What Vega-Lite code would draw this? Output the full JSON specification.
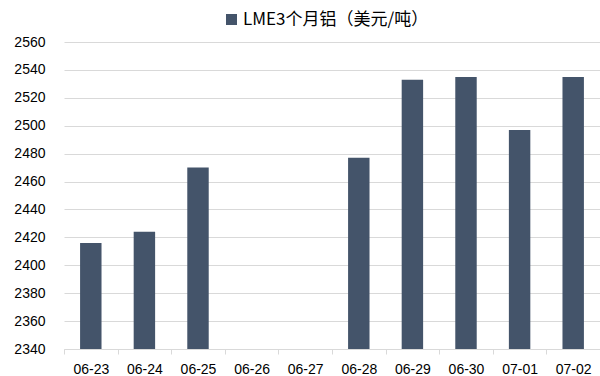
{
  "$schema": "https://vega.github.io/schema/vega-lite/v6.json",
  "width": 536,
  "height": 307,
  "autosize": "none",
  "padding": {"left": 64, "top": 42, "right": 0, "bottom": 27},
  "background": "white",
  "config": {"view": {"stroke": null}},
  "data": {
    "values": [
      {"date": "06-23", "price": 2416, "series": "LME3个月铝（美元/吨）"},
      {"date": "06-24", "price": 2424, "series": "LME3个月铝（美元/吨）"},
      {"date": "06-25", "price": 2470, "series": "LME3个月铝（美元/吨）"},
      {"date": "06-26", "price": null, "series": "LME3个月铝（美元/吨）"},
      {"date": "06-27", "price": null, "series": "LME3个月铝（美元/吨）"},
      {"date": "06-28", "price": 2477, "series": "LME3个月铝（美元/吨）"},
      {"date": "06-29", "price": 2533, "series": "LME3个月铝（美元/吨）"},
      {"date": "06-30", "price": 2535, "series": "LME3个月铝（美元/吨）"},
      {"date": "07-01", "price": 2497, "series": "LME3个月铝（美元/吨）"},
      {"date": "07-02", "price": 2535, "series": "LME3个月铝（美元/吨）"}
    ]
  },
  "mark": {"type": "bar", "width": {"band": 0.4}, "clip": true},
  "encoding": {
    "x": {
      "field": "date",
      "type": "nominal",
      "sort": null,
      "scale": {
        "domain": ["06-23", "06-24", "06-25", "06-26", "06-27", "06-28", "06-29", "06-30", "07-01", "07-02"],
        "paddingInner": 0,
        "paddingOuter": 0
      },
      "axis": {
        "title": null,
        "labelAngle": 0,
        "labelFont": "Liberation Sans",
        "labelFontSize": 14,
        "labelColor": "#000000",
        "labelPadding": 8,
        "domainColor": "#D9D9D9",
        "domainWidth": 1,
        "tickColor": "#D9D9D9",
        "tickSize": 5,
        "tickBand": "extent",
        "grid": false
      }
    },
    "y": {
      "field": "price",
      "type": "quantitative",
      "scale": {"domain": [2340, 2560], "zero": false, "nice": false},
      "axis": {
        "title": null,
        "format": "d",
        "values": [2340, 2360, 2380, 2400, 2420, 2440, 2460, 2480, 2500, 2520, 2540, 2560],
        "labelFont": "Liberation Sans",
        "labelFontSize": 14,
        "labelColor": "#000000",
        "labelPadding": 19,
        "domain": false,
        "ticks": false,
        "grid": true,
        "gridColor": "#D9D9D9",
        "gridWidth": 1
      }
    },
    "color": {
      "field": "series",
      "type": "nominal",
      "scale": {"range": ["#44546A"]},
      "legend": {
        "title": null,
        "orient": "none",
        "legendX": 159,
        "legendY": -31,
        "padding": 0,
        "symbolType": "square",
        "symbolSize": 121,
        "symbolStrokeWidth": 0,
        "labelFont": "Noto Sans CJK SC",
        "labelFontSize": 17,
        "labelLimit": 400,
        "labelColor": "#000000",
        "labelOffset": 3
      }
    }
  }
}
